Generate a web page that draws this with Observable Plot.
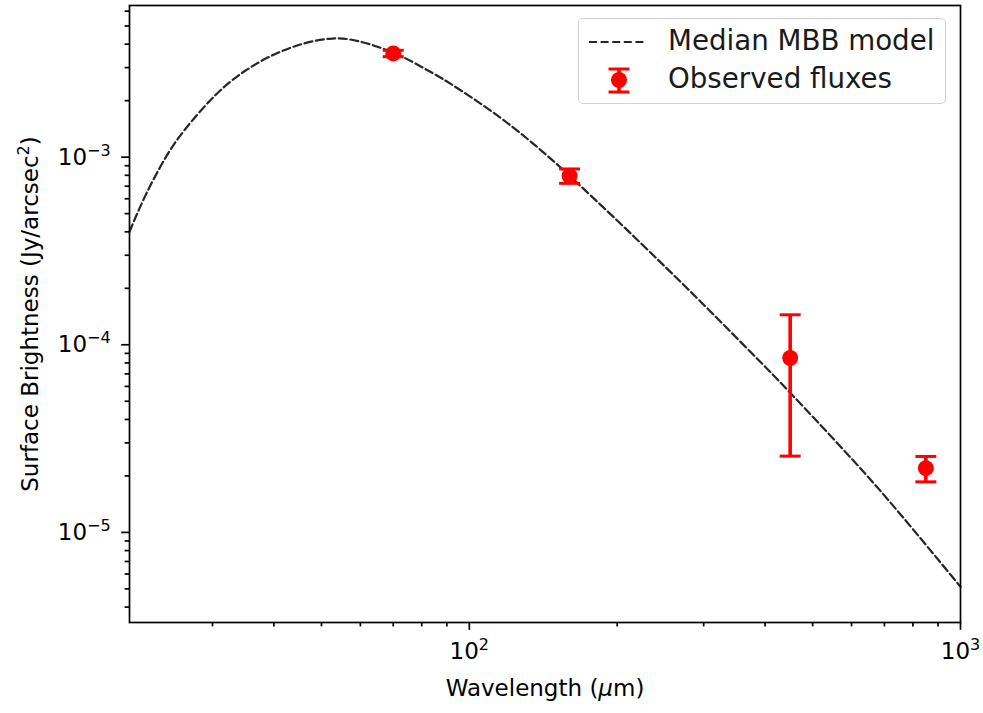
<!DOCTYPE html>
<html>
<head>
<meta charset="utf-8">
<script src="https://cdn.jsdelivr.net/npm/d3@7"></script>
<script src="https://cdn.jsdelivr.net/npm/@observablehq/plot@0.6"></script>
<style>
  html, body { margin: 0; padding: 0; background: #fff; }
  #wrap { position: relative; width: 983px; height: 713px; font-family: "DejaVu Sans", sans-serif; }
  #legend {
    position: absolute; left: 578px; top: 18px; width: 368px; height: 86px;
    box-sizing: border-box; border: 1.3px solid #d3d3d3; border-radius: 5px;
    background: rgba(255,255,255,0.85);
  }
  #legend svg { position: absolute; left: 0; top: 0; }
  #legend .lbl { position: absolute; left: 89px; font-size: 27.7px; line-height: 1; color: #1a1a1a; white-space: nowrap; }
</style>
</head>
<body>
<div id="wrap"></div>
<script>
// Median MBB model curve (wavelength in micron, Jy/arcsec^2)
const modelWavelength = [20.33, 21.88, 24.04, 26.40, 30.39, 34.98, 40.27, 46.35, 52.6, 59.41, 70.70, 81.37, 91.48, 115.7, 141.5, 160.6, 200.2, 244.9, 295.5, 373.5, 450.6, 597, 754.9, 1000];
const modelFlux = [4.0e-4, 6.2e-4, 9.88e-4, 1.409e-3, 2.136e-3, 2.888e-3, 3.549e-3, 4.051e-3, 4.286e-3, 4.151e-3, 3.566e-3, 2.948e-3, 2.465e-3, 1.621e-3, 1.061e-3, 7.88e-4, 4.584e-4, 2.757e-4, 1.701e-4, 9.17e-5, 5.53e-5, 2.51e-5, 1.247e-5, 5.13e-6];

// Observed fluxes with 1-sigma errors
const obsWavelength = [70, 160, 450, 850];
const obsFlux = [3.57e-3, 7.95e-4, 8.5e-5, 2.2e-5];
const obsError = [1.4e-4, 7.0e-5, 5.95e-5, 3.4e-6];

// Axis ticks ("^" marks a superscript)
const xMajorTicks = [100, 1000];
const xMajorLabels = ["10^2", "10^3"];
const xMinorTicks = [30, 40, 50, 60, 70, 80, 90, 200, 300, 400, 500, 600, 700, 800, 900];
const yMajorTicks = [1e-5, 1e-4, 1e-3];
const yMajorLabels = ["10^−5", "10^−4", "10^−3"];
const yMinorTicks = [4e-6, 5e-6, 6e-6, 7e-6, 8e-6, 9e-6, 2e-5, 3e-5, 4e-5, 5e-5, 6e-5, 7e-5, 8e-5, 9e-5, 2e-4, 3e-4, 4e-4, 5e-4, 6e-4, 7e-4, 8e-4, 9e-4, 2e-3, 3e-3, 4e-3, 5e-3, 6e-3];

const model = modelWavelength.map((w, i) => ({w, f: modelFlux[i]}));
const obs = obsWavelength.map((w, i) => ({w, f: obsFlux[i], lo: obsFlux[i] - obsError[i], hi: obsFlux[i] + obsError[i]}));

const capSymbol = { draw(ctx) { ctx.moveTo(-10.5, 0); ctx.lineTo(10.5, 0); } };

const chart = Plot.plot({
  width: 983,
  height: 713,
  marginLeft: 129,
  marginRight: 23,
  marginTop: 5,
  marginBottom: 91,
  style: { fontFamily: "DejaVu Sans, sans-serif", fontSize: "23px", background: "transparent", color: "#000", overflow: "visible" },
  x: { type: "log", domain: [20.33, 1000] },
  y: { type: "log", domain: [3.31e-6, 6.43e-3] },
  marks: [
    Plot.line(model, { x: "w", y: "f", stroke: "#262626", strokeWidth: 2.2, strokeDasharray: "8,3.6", curve: "natural" }),
    Plot.ruleX(obs, { x: "w", y1: "lo", y2: "hi", stroke: "#ff0000", strokeWidth: 3.6 }),
    Plot.dot(obs, { x: "w", y: "lo", symbol: capSymbol, r: 5, stroke: "#ff0000", strokeWidth: 3, fill: "none" }),
    Plot.dot(obs, { x: "w", y: "hi", symbol: capSymbol, r: 5, stroke: "#ff0000", strokeWidth: 3, fill: "none" }),
    Plot.dot(obs, { x: "w", y: "f", r: 8, fill: "#ff0000", stroke: "none" }),
    Plot.axisX(xMinorTicks, { tickSize: 4.4, strokeWidth: 1.7, tickFormat: () => "", label: null }),
    Plot.axisX(xMajorTicks, { tickSize: 7.8, strokeWidth: 1.7, tickPadding: 12, tickFormat: (d) => xMajorLabels[xMajorTicks.indexOf(d)], label: "Wavelength (μm)", labelAnchor: "center", labelOffset: 73, labelArrow: "none" }),
    Plot.axisY(yMinorTicks, { tickSize: 4.4, strokeWidth: 1.7, tickFormat: () => "", label: null }),
    Plot.axisY(yMajorTicks, { tickSize: 7.8, strokeWidth: 1.7, tickPadding: 11, tickFormat: (d) => yMajorLabels[yMajorTicks.indexOf(d)], label: "Surface Brightness (Jy/arcsec²)", labelAnchor: "center", labelOffset: 108, labelArrow: "none" }),
    Plot.frame({ stroke: "#000", strokeWidth: 1.7 })
  ]
});

// typeset superscripts and the italic mu as real text
const NS = "http://www.w3.org/2000/svg";
function tspan(text, attrs) {
  const ts = document.createElementNS(NS, "tspan");
  for (const k in attrs) ts.setAttribute(k, attrs[k]);
  ts.textContent = text;
  return ts;
}
chart.querySelectorAll("text").forEach(t => {
  const s = t.textContent;
  const m = s.match(/^(10)\^(.+)$/);
  if (m) {
    t.textContent = m[1];
    t.appendChild(tspan(m[2], { dy: "-9", "font-size": "16" }));
  } else if (s === "Wavelength (μm)") {
    t.textContent = "Wavelength (";
    t.appendChild(tspan("μ", { "font-style": "italic" }));
    t.appendChild(document.createTextNode("m)"));
  } else if (s === "Surface Brightness (Jy/arcsec²)") {
    t.textContent = "Surface Brightness (Jy/arcsec";
    t.appendChild(tspan("2", { dy: "-9", "font-size": "16" }));
    t.appendChild(tspan(")", { dy: "9" }));
  }
});

const wrap = document.getElementById("wrap");
wrap.appendChild(chart);

// legend overlay
const legend = document.createElement("div");
legend.id = "legend";
legend.innerHTML = `
  <svg width="368" height="86">
    <line x1="10" x2="67" y1="23" y2="23" stroke="#262626" stroke-width="2.2" stroke-dasharray="8,3.6"/>
    <line x1="40" x2="40" y1="50" y2="73" stroke="#ff0000" stroke-width="3.6"/>
    <line x1="29.5" x2="50.5" y1="50" y2="50" stroke="#ff0000" stroke-width="3"/>
    <line x1="29.5" x2="50.5" y1="73" y2="73" stroke="#ff0000" stroke-width="3"/>
    <circle cx="40" cy="61" r="8" fill="#ff0000"/>
  </svg>
  <div class="lbl" style="top:8px">Median MBB model</div>
  <div class="lbl" style="top:46px">Observed fluxes</div>`;
wrap.appendChild(legend);
</script>
</body>
</html>
